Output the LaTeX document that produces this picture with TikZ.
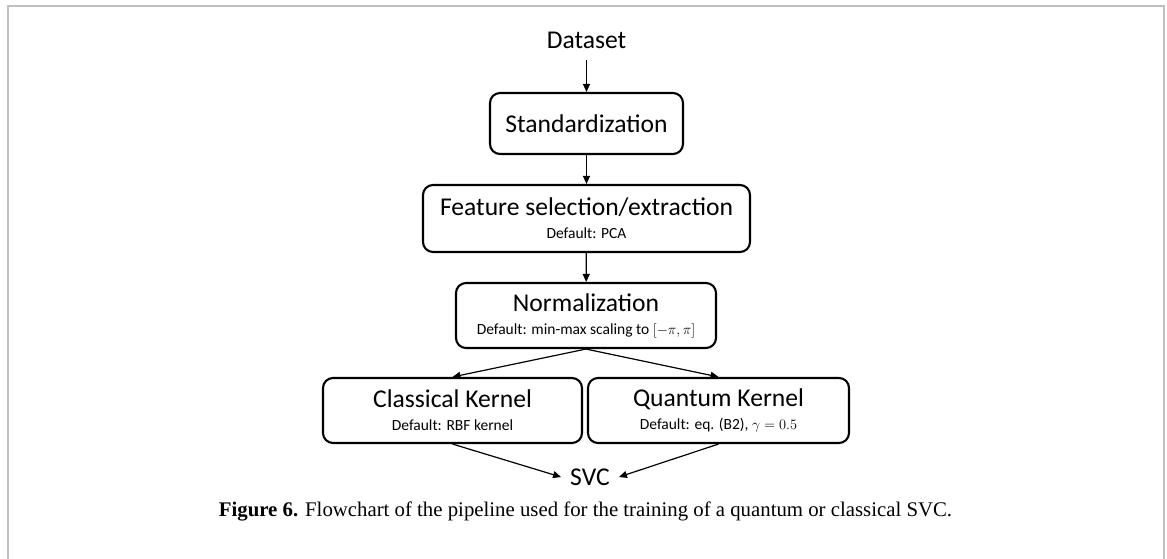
\documentclass[tikz,border=0pt]{standalone}
\usepackage{fontspec}
\setmainfont{Carlito}
\newfontfamily\capfont{Liberation Serif}
\usetikzlibrary{arrows.meta}

\newcommand{\ttl}{\fontsize{25.6}{28}\selectfont}
\newcommand{\sub}{\fontsize{15.5}{18}\selectfont}

\tikzset{
  box/.style={draw=black, line width=2.1pt, rounded corners=10pt, align=center,
              inner sep=0pt, anchor=center, font=\fontsize{15.5}{23}\selectfont},
  flow/.style={line width=1.2pt, -{Triangle[length=8pt,width=7pt]}},
  frame/.style={draw={rgb,255:red,192;green,192;blue,192}, line width=2pt},
}

\begin{document}
\begin{tikzpicture}[x=1pt,y=-1pt]
  \useasboundingbox (0,0) rectangle (1167,559);
  % open frame around the figure
  \draw[frame] (8,559) -- (8,6) -- (1163.5,6) -- (1163.5,559);

  % pipeline stages
  \node[inner xsep=2pt, inner ysep=11pt] (data) at (586.5,40) {\ttl Dataset};
  \node[box, minimum width=193pt, minimum height=61pt] (std) at (586.5,123.5)
       {\ttl Standardization};
  \node[box, minimum width=327pt, minimum height=67pt] (feat) at (586.5,218.5)
       {\ttl Feature selection/extraction\\\sub Default: PCA};
  \node[box, minimum width=260pt, minimum height=65pt] (norm) at (586,315.5)
       {\ttl Normalization\\\sub Default: min-max scaling to $[-\pi,\pi]$};
  \node[box, minimum width=259pt, minimum height=65pt] (cls) at (452.5,410.5)
       {\ttl Classical Kernel\\\sub Default: RBF kernel};
  \node[box, minimum width=261pt, minimum height=65pt] (qnt) at (718.5,410.5)
       {\ttl Quantum Kernel\\\sub Default: eq. (B2), $\gamma=0.5$};
  \node[inner xsep=9pt, inner ysep=2pt] (svc) at (590,477) {\ttl SVC};

  % connectors
  \draw[flow] (data) -- (std);
  \draw[flow] (std) -- (feat);
  \draw[flow] (feat) -- (norm);
  \draw[flow] (norm.south) -- (cls.north);
  \draw[flow] (norm.south) -- (qnt.north);
  \draw[flow] (cls.south) -- (svc.west);
  \draw[flow] (qnt.south) -- (svc.east);

  % caption
  \node (cap) at (585.5,511) {\capfont\fontsize{20.8}{24}\selectfont
    \textbf{Figure 6.} Flowchart of the pipeline used for the training of a quantum or classical SVC.};
\end{tikzpicture}
\end{document}
